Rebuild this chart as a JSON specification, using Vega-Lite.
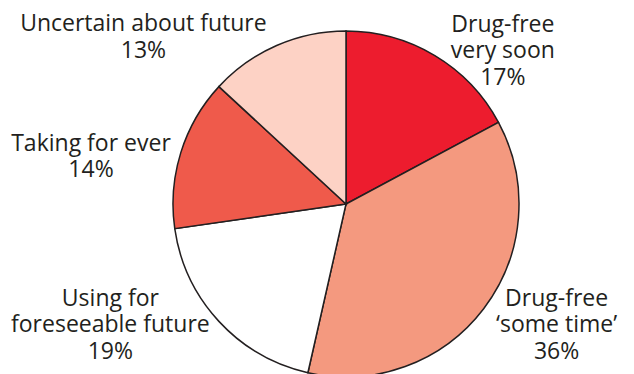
{
  "$schema": "https://vega.github.io/schema/vega-lite/v6.json",
  "width": 576,
  "height": 340,
  "autosize": "none",
  "padding": {"left": 58, "top": 34, "right": 0, "bottom": 0},
  "background": "white",
  "config": {"view": {"stroke": null}},
  "data": {"values": [
    {"idx": 1, "category": "Drug-free very soon", "share": 17, "label": ["Drug-free", "very soon", "17%"]},
    {"idx": 2, "category": "Drug-free ‘some time’", "share": 36, "label": ["Drug-free", "‘some time’", "36%"]},
    {"idx": 3, "category": "Using for foreseeable future", "share": 19, "label": ["Using for", "foreseeable future", "19%"]},
    {"idx": 4, "category": "Taking for ever", "share": 14, "label": ["Taking for ever", "14%"]},
    {"idx": 5, "category": "Uncertain about future", "share": 13, "label": ["Uncertain about future", "13%"]}
  ]},
  "encoding": {
    "theta": {"field": "share", "type": "quantitative", "stack": true},
    "order": {"field": "idx", "type": "quantitative"}
  },
  "layer": [
    {
      "mark": {"type": "arc", "stroke": "#231F20", "strokeWidth": 1.5},
      "encoding": {
        "radius": {"value": 173},
        "color": {
          "field": "category", "type": "nominal", "legend": null,
          "scale": {
            "domain": ["Drug-free very soon", "Drug-free ‘some time’", "Using for foreseeable future", "Taking for ever", "Uncertain about future"],
            "range": ["#ED1C2E", "#F4997F", "#FFFFFF", "#EF5A4B", "#FDD2C5"]
          }
        }
      }
    },
    {
      "mark": {"type": "text", "font": "Open Sans", "fontSize": 23, "fontWeight": 500, "lineHeight": 26.5, "fill": "#231F20", "align": "center", "baseline": "middle", "thetaOffset": 0.180},
      "encoding": {"radius": {"value": 238}, "text": {"condition": {"test": "datum.idx === 1", "field": "label"}, "value": ""}}
    },
    {
      "mark": {"type": "text", "font": "Open Sans", "fontSize": 23, "fontWeight": 500, "lineHeight": 26.5, "fill": "#231F20", "align": "center", "baseline": "middle", "thetaOffset": -0.227},
      "encoding": {"radius": {"value": 231}, "text": {"condition": {"test": "datum.idx === 2", "field": "label"}, "value": ""}}
    },
    {
      "mark": {"type": "text", "font": "Open Sans", "fontSize": 23, "fontWeight": 500, "lineHeight": 26.5, "fill": "#231F20", "align": "center", "baseline": "middle", "thetaOffset": 0.363},
      "encoding": {"radius": {"value": 254}, "text": {"condition": {"test": "datum.idx === 3", "field": "label"}, "value": ""}}
    },
    {
      "mark": {"type": "text", "font": "Open Sans", "fontSize": 23, "fontWeight": 500, "lineHeight": 26.5, "fill": "#231F20", "align": "center", "baseline": "middle", "thetaOffset": -0.070},
      "encoding": {"radius": {"value": 262}, "text": {"condition": {"test": "datum.idx === 4", "field": "label"}, "value": ""}}
    },
    {
      "mark": {"type": "text", "font": "Open Sans", "fontSize": 23, "fontWeight": 500, "lineHeight": 26.5, "fill": "#231F20", "align": "center", "baseline": "middle", "thetaOffset": -0.432},
      "encoding": {"radius": {"value": 271}, "text": {"condition": {"test": "datum.idx === 5", "field": "label"}, "value": ""}}
    }
  ]
}
